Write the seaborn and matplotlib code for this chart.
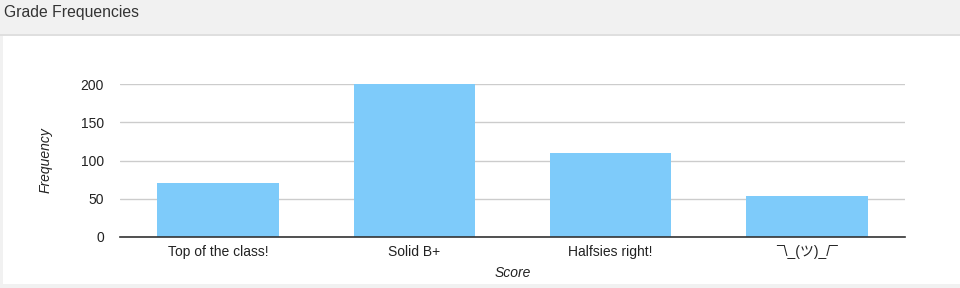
import matplotlib
matplotlib.use("Agg")
import matplotlib.pyplot as plt
import seaborn as sns
import pandas as pd
from matplotlib.patches import Rectangle
from matplotlib.lines import Line2D

categories = ["Top of the class!", "Solid B+", "Halfsies right!", "¯\\_(ツ)_/¯"]
frequencies = [70, 200, 110, 54]
y_ticks = [0, 50, 100, 150, 200]

sns.set_theme(style="white")
plt.rcParams['font.family'] = ['Liberation Sans', 'Noto Sans CJK JP', 'DejaVu Sans']

df = pd.DataFrame({"Score": categories, "Frequency": frequencies})

fig = plt.figure(figsize=(9.6, 2.88), dpi=100, facecolor="#f1f1f1")
# white panel
fig.patches.append(Rectangle((3/960, 4/288), 1 - 3/960, (284-36)/288,
                             transform=fig.transFigure, facecolor="white",
                             edgecolor="none", zorder=-10))
fig.lines.append(Line2D([0, 1], [1 - 34.5/288, 1 - 34.5/288], transform=fig.transFigure,
                        color="#dcdcdc", lw=1.2, zorder=-9))
fig.text(4/960, 1 - 12.5/288, "Grade Frequencies", fontsize=11.3, color="#333333",
         ha="left", va="center")

ax = fig.add_axes([120/960, 1 - 237/288, (905-120)/960, (237-84)/288])
ax.set_facecolor("none")
sns.barplot(data=df, x="Score", y="Frequency", color="#7ecbfa", width=0.62,
            saturation=1, ax=ax, zorder=2, edgecolor="none")
ax.set_ylim(0, 200)
ax.set_xlim(-0.5, 3.5)
ax.set_yticks(y_ticks)
ax.set_yticklabels([str(t) for t in y_ticks])
ax.grid(axis="y", color="#cccccc", lw=1, zorder=0)
ax.set_axisbelow(True)
for s in ["top", "right", "left"]:
    ax.spines[s].set_visible(False)
ax.spines["bottom"].set_color("#333333")
ax.spines["bottom"].set_linewidth(1.2)
ax.spines["bottom"].set_zorder(3)
ax.tick_params(axis="y", length=0, pad=11.5, labelsize=10, labelcolor="#222222")
ax.tick_params(axis="x", length=0, pad=6, labelsize=10, labelcolor="#222222")
ax.set_xlabel("Score", fontsize=10, style="italic", color="#222222", labelpad=4.5)
ax.set_ylabel("Frequency", fontsize=10, style="italic", color="#222222", labelpad=20)

fig.savefig("out.png", dpi=100, facecolor=fig.get_facecolor())
